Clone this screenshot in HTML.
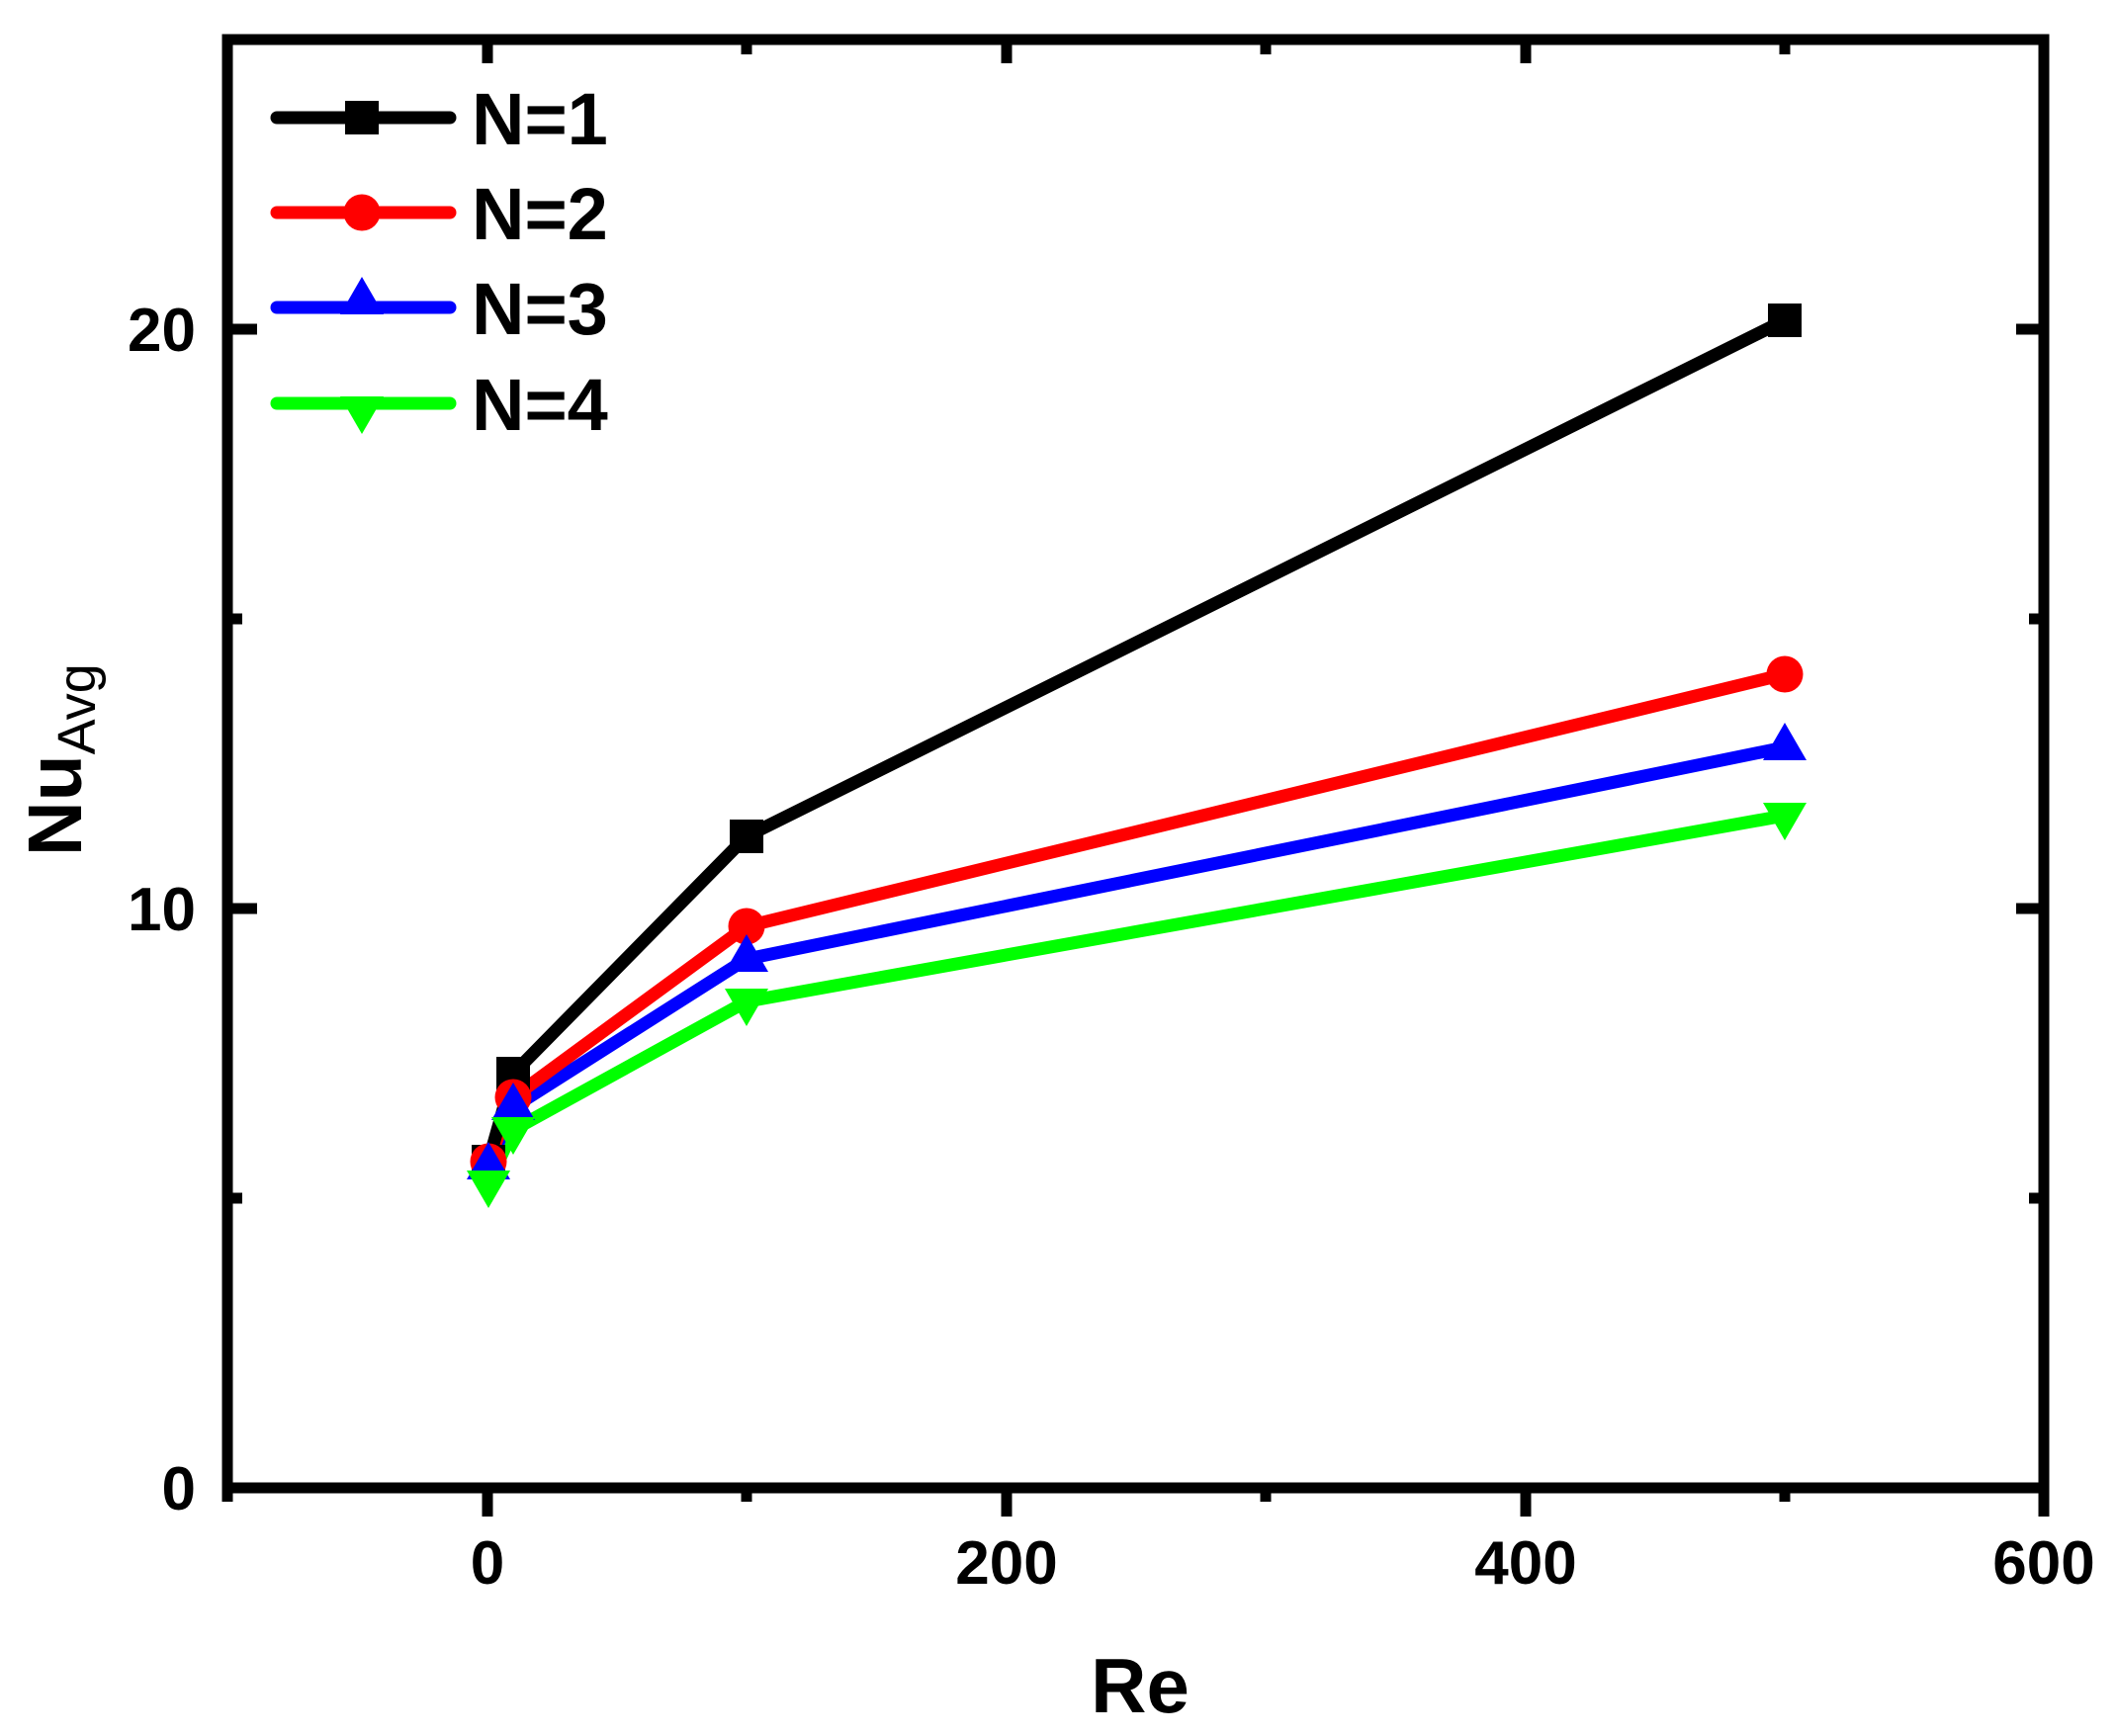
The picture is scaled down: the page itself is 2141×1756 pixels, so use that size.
<!DOCTYPE html>
<html><head><meta charset="utf-8"><style>html,body{margin:0;padding:0;background:#fff}svg{display:block}</style></head>
<body>
<svg width="2141" height="1756" viewBox="0 0 2141 1756" xmlns="http://www.w3.org/2000/svg" font-family="Liberation Sans, Arial, sans-serif" font-weight="bold">
<defs>
<rect id="sq" x="-17" y="-17" width="34" height="34"/>
<circle id="ci" r="18.5"/>
<polygon id="tu" points="0,-25 22,13 -22,13"/>
<polygon id="td" points="0,25 22,-13 -22,-13"/>
</defs>
<g stroke-linejoin="round" stroke-linecap="round" fill="none" stroke-width="13">
<polyline stroke="#00ff00" points="494,1197 519,1143 755,1013 1805,825"/>
<polyline stroke="#0000ff" points="494,1180 519,1120 755,970 1805,756"/>
<polyline stroke="#ff0000" points="494,1175 519,1110 755,937 1805,682"/>
<polyline stroke="#000" points="494,1175 519,1086 755,846 1805,324"/>
</g>
<g fill="#000"><use href="#sq" x="494" y="1175"/><use href="#sq" x="519" y="1086"/><use href="#sq" x="755" y="846"/><use href="#sq" x="1805" y="324"/></g>
<g fill="#ff0000"><use href="#ci" x="494" y="1175"/><use href="#ci" x="519" y="1110"/><use href="#ci" x="755" y="937"/><use href="#ci" x="1805" y="682"/></g>
<g fill="#0000ff"><use href="#tu" x="494" y="1180"/><use href="#tu" x="519" y="1120"/><use href="#tu" x="755" y="970"/><use href="#tu" x="1805" y="756"/></g>
<g fill="#00ff00"><use href="#td" x="494" y="1197"/><use href="#td" x="519" y="1143"/><use href="#td" x="755" y="1013"/><use href="#td" x="1805" y="825"/></g>

<rect x="230" y="40" width="1837" height="1465" fill="none" stroke="#000" stroke-width="11"/>
<g stroke="#000" stroke-width="11">
<line x1="230" y1="1505" x2="230" y2="1519"/>
<line x1="493" y1="1505" x2="493" y2="1534"/>
<line x1="755" y1="1505" x2="755" y2="1519"/>
<line x1="1018" y1="1505" x2="1018" y2="1534"/>
<line x1="1280" y1="1505" x2="1280" y2="1519"/>
<line x1="1543" y1="1505" x2="1543" y2="1534"/>
<line x1="1805" y1="1505" x2="1805" y2="1519"/>
<line x1="2067" y1="1505" x2="2067" y2="1534"/>
<line x1="493" y1="40" x2="493" y2="64"/><line x1="755" y1="40" x2="755" y2="55"/>
<line x1="1018" y1="40" x2="1018" y2="64"/><line x1="1280" y1="40" x2="1280" y2="55"/>
<line x1="1543" y1="40" x2="1543" y2="64"/><line x1="1805" y1="40" x2="1805" y2="55"/>
<line x1="230" y1="919" x2="260" y2="919"/><line x1="230" y1="333" x2="260" y2="333"/>
<line x1="230" y1="1212" x2="245" y2="1212"/><line x1="230" y1="626" x2="245" y2="626"/>
<line x1="2067" y1="919" x2="2039" y2="919"/><line x1="2067" y1="333" x2="2039" y2="333"/>
<line x1="2067" y1="1212" x2="2052" y2="1212"/><line x1="2067" y1="626" x2="2052" y2="626"/>
</g>
<g font-size="62" fill="#000" text-anchor="end">
<text x="198" y="1527">0</text>
<text x="198" y="941">10</text>
<text x="198" y="355">20</text>
</g>
<g font-size="62" fill="#000" text-anchor="middle">
<text x="493" y="1602">0</text>
<text x="1018" y="1602">200</text>
<text x="1543" y="1602">400</text>
<text x="2067" y="1602">600</text>
</g>
<text x="1153" y="1732" font-size="78" text-anchor="middle" fill="#000">Re</text>
<text transform="translate(82,866) rotate(-90)" font-size="77" fill="#000">Nu<tspan font-size="54" font-weight="normal" dy="14">Avg</tspan></text>

<g stroke-width="13" stroke-linecap="round">
<line x1="280" y1="119" x2="455" y2="119" stroke="#000"/>
<line x1="280" y1="215" x2="455" y2="215" stroke="#ff0000"/>
<line x1="280" y1="311" x2="455" y2="311" stroke="#0000ff"/>
<line x1="280" y1="408" x2="455" y2="408" stroke="#00ff00"/>
</g>
<use href="#sq" x="366" y="119" fill="#000"/>
<use href="#ci" x="366" y="215" fill="#ff0000"/>
<use href="#tu" x="366" y="305" fill="#0000ff"/>
<use href="#td" x="366" y="414" fill="#00ff00"/>
<g font-size="74" fill="#000">
<text x="477" y="146">N=1</text>
<text x="477" y="242">N=2</text>
<text x="477" y="338">N=3</text>
<text x="477" y="435">N=4</text>
</g>
</svg>
</body></html>
